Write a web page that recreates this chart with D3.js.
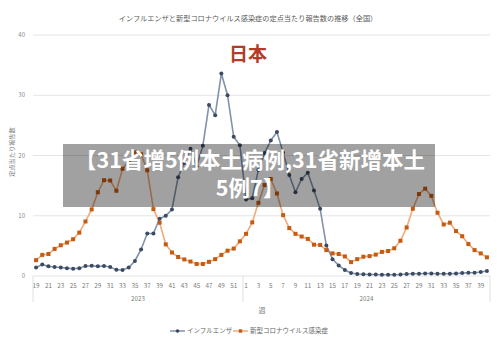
<!DOCTYPE html>
<html><head><meta charset="utf-8">
<script src="https://cdn.jsdelivr.net/npm/d3@7"></script>
<style>
html,body{margin:0;padding:0;background:#fff;}
svg{display:block;font-family:"Noto Sans CJK JP","Noto Sans",sans-serif;}
</style></head>
<body><svg id="c" width="500" height="352"></svg>
<script>
const title = "インフルエンザと新型コロナウイルス感染症の定点当たり報告数の推移（全国）";
const years = ["2023", "2024"];
const weeks2023 = [19,20,21,22,23,24,25,26,27,28,29,30,31,32,33,34,35,36,37,38,39,40,41,42,43,44,45,46,47,48,49,50,51,52];
const weeks2024 = [1,2,3,4,5,6,7,8,9,10,11,12,13,14,15,16,17,18,19,20,21,22,23,24,25,26,27,28,29,30,31,32,33,34,35,36,37,38,39,40];
const yTicks = [0, 10, 20, 30, 40];
const fluName = "インフルエンザ";
const covidName = "新型コロナウイルス感染症";
const flu = [1.4,1.9,1.6,1.5,1.4,1.3,1.2,1.3,1.65,1.7,1.6,1.65,1.5,1.05,1.0,1.4,2.5,4.4,7.05,
  7.05,9.5,10.0,11.05,16.4,18.8,21.1,18.2,21.6,28.4,26.7,33.6,30.0,23.1,21.7,
  12.7,12.9,17.65,20.4,22.5,23.9,20.5,16.75,13.9,16.1,17.15,14.2,11.15,5.05,2.8,1.75,1.0,0.5,
  0.33,0.3,0.25,0.25,0.2,0.2,0.2,0.25,0.33,0.38,0.38,0.42,0.42,0.38,0.38,0.38,0.42,0.48,0.55,0.55,0.66,0.83];
const covid = [2.63,3.5,3.65,4.5,5.1,5.55,6.1,7.2,9.05,11.05,13.9,15.9,15.85,14.15,17.8,19.07,20.5,20.2,17.55,
  11.1,8.85,5.25,3.9,3.15,2.75,2.4,2.0,2.0,2.35,2.8,3.5,4.2,4.55,5.75,
  7.0,8.9,12.15,15.1,16.1,13.7,10.1,7.95,7.0,6.55,6.15,5.2,5.15,4.3,3.75,3.65,3.25,2.3,2.8,
  3.2,3.3,3.55,4.0,4.15,4.6,5.85,8.05,11.15,13.6,14.5,13.3,10.5,8.55,8.85,7.45,6.6,5.3,4.3,3.75,3.1];
const overlayLines = ["【31省增5例本土病例,31省新增本土", "5例7】"];

const cats = [];
weeks2023.forEach(w => cats.push({year: years[0], week: w}));
weeks2024.forEach(w => cats.push({year: years[1], week: w}));
const keys = cats.map(c => c.year + "-" + c.week);

const svg = d3.select("#c");
const pLeft = 33, pRight = 490, pTop = 35, pBottom = 276;
const x = d3.scaleBand().domain(keys).range([pLeft, pRight]).padding(0);
const y = d3.scaleLinear().domain([0, 40]).range([pBottom, pTop]);
const cx = i => x(keys[i]) + x.bandwidth() / 2;

// title
svg.append("text").attr("x", 248).attr("y", 21).attr("text-anchor", "middle")
  .attr("font-size", 7.2).attr("fill", "#595959").text(title);

// gridlines
svg.append("g").selectAll("line").data(yTicks).join("line")
  .attr("x1", pLeft).attr("x2", pRight).attr("y1", d => y(d)).attr("y2", d => y(d))
  .attr("stroke", "#e4e4e4").attr("stroke-width", 1);
svg.append("g").selectAll("text").data(yTicks).join("text")
  .attr("x", 25).attr("y", d => y(d) + 2).attr("text-anchor", "end")
  .attr("font-size", 6).attr("fill", "#8a8a8a").text(d => d);

// y label
svg.append("text").attr("transform", "translate(14,152) rotate(-90)")
  .attr("text-anchor", "middle").attr("font-size", 6.2).attr("fill", "#7a7a7a").text("定点当たり報告数");

// x axis tick labels
svg.append("g").selectAll("text").data(cats.map((c, i) => ({c, i})).filter(d => d.c.week % 2 === 1)).join("text")
  .attr("x", d => cx(d.i)).attr("y", 287.5).attr("text-anchor", "middle")
  .attr("font-size", 6.3).attr("fill", "#7a7a7a").text(d => d.c.week);

// year separators
const sepX = [pLeft, x(years[1] + "-" + weeks2024[0]), pRight];
svg.append("g").selectAll("line").data(sepX).join("line")
  .attr("x1", d => d).attr("x2", d => d).attr("y1", pBottom).attr("y2", 302)
  .attr("stroke", "#e0e0e0").attr("stroke-width", 1);
svg.append("g").selectAll("text").data(years).join("text")
  .attr("x", (d, i) => (sepX[i] + sepX[i + 1]) / 2).attr("y", 301)
  .attr("text-anchor", "middle").attr("font-size", 6.2).attr("fill", "#7a7a7a").text(d => d);
svg.append("text").attr("x", 262).attr("y", 313).attr("text-anchor", "middle")
  .attr("font-size", 7).attr("fill", "#7a7a7a").text("週");

// lines
const line = d3.line().x((d, i) => cx(i)).y(d => y(d));
const fluLine = "#8193ab", fluDot = "#3c4a61", covLine = "#f1aa78", covDot = "#c55a11";
svg.append("path").datum(covid).attr("d", line).attr("fill", "none").attr("stroke", covLine).attr("stroke-width", 1.6);
svg.append("path").datum(flu).attr("d", line).attr("fill", "none").attr("stroke", fluLine).attr("stroke-width", 1.6);
svg.append("g").selectAll("rect").data(covid).join("rect")
  .attr("x", (d, i) => cx(i) - 2).attr("y", d => y(d) - 2).attr("width", 4).attr("height", 4).attr("fill", covDot);
svg.append("g").selectAll("circle").data(flu).join("circle")
  .attr("cx", (d, i) => cx(i)).attr("cy", d => y(d)).attr("r", 2).attr("fill", fluDot);

// 日本
svg.append("text").attr("x", 248).attr("y", 61).attr("text-anchor", "middle")
  .attr("font-size", 19).attr("font-weight", "bold").attr("fill", "#b23b2a").text("日本");

// legend
const lg = svg.append("g");
lg.append("line").attr("x1", 170).attr("x2", 185).attr("y1", 331).attr("y2", 331).attr("stroke", fluLine).attr("stroke-width", 1.5);
lg.append("circle").attr("cx", 177.5).attr("cy", 331).attr("r", 1.8).attr("fill", fluDot);
lg.append("text").attr("x", 187).attr("y", 333.3).attr("font-size", 6.5).attr("fill", "#666").text(fluName);
lg.append("line").attr("x1", 233).attr("x2", 248).attr("y1", 331).attr("y2", 331).attr("stroke", covLine).attr("stroke-width", 1.5);
lg.append("rect").attr("x", 238.8).attr("y", 329.3).attr("width", 3.4).attr("height", 3.4).attr("fill", covDot);
lg.append("text").attr("x", 250).attr("y", 333.3).attr("font-size", 6.5).attr("fill", "#666").text(covidName);

// overlay
svg.append("rect").attr("x", 63).attr("y", 144).attr("width", 372).attr("height", 63)
  .attr("fill", "rgba(0,0,0,0.37)");
svg.append("g").selectAll("text").data(overlayLines).join("text")
  .attr("x", 250).attr("y", (d, i) => 168 + i * 28).attr("text-anchor", "middle")
  .attr("font-family", "'Noto Sans CJK SC', sans-serif")
  .attr("font-size", 21.5).attr("font-weight", "bold").attr("fill", "#fff").text(d => d);
</script></body></html>
